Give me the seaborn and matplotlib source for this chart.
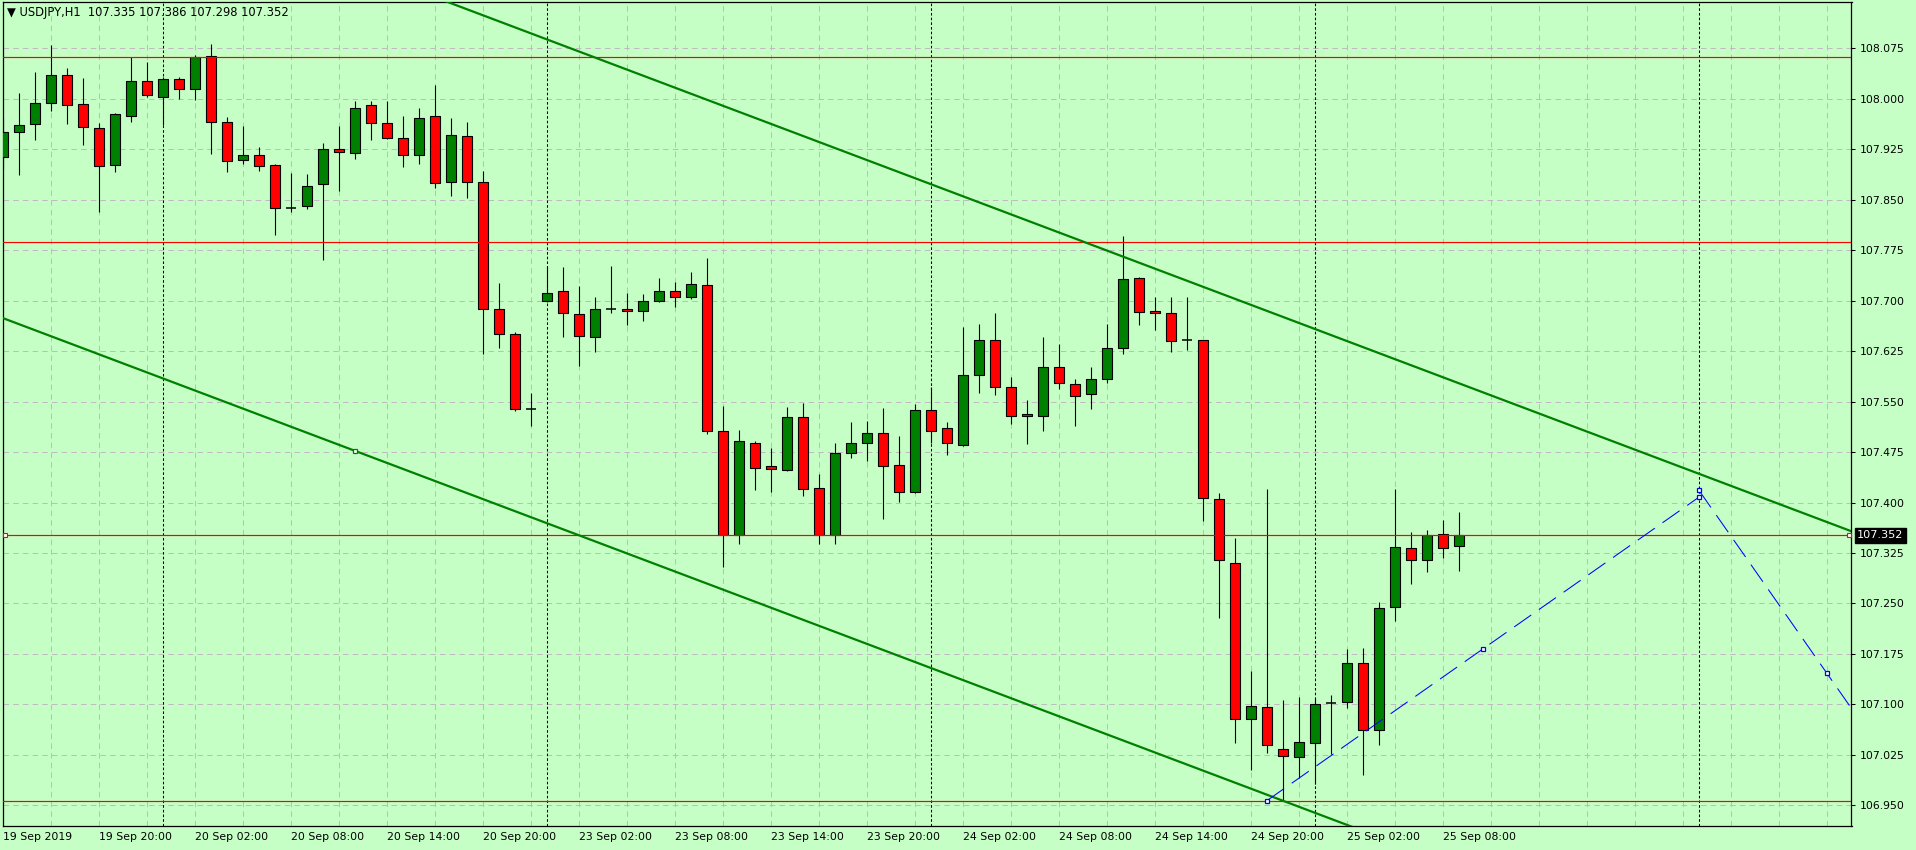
import matplotlib
matplotlib.use("Agg")
import matplotlib.pyplot as plt
import matplotlib.transforms as mtrans
import numpy as np
import seaborn as sns

# ---------------- data ----------------
symbol_title = "USDJPY,H1"
last_ohlc = [107.335, 107.386, 107.298, 107.352]

opens = [107.914, 107.950, 107.963, 107.993, 108.036, 107.992, 107.957, 107.901, 107.975, 108.027,
         108.002, 108.030, 108.015, 108.063, 107.966, 107.909, 107.917, 107.901, 107.838, 107.840,
         107.874, 107.925, 107.919, 107.990, 107.964, 107.941, 107.917, 107.975, 107.877, 107.944,
         107.877, 107.687, 107.650, 107.539, 107.700, 107.714, 107.680, 107.646, 107.687, 107.688,
         107.684, 107.700, 107.714, 107.705, 107.723, 107.506, 107.352, 107.489, 107.454, 107.448,
         107.527, 107.421, 107.352, 107.474, 107.488, 107.503, 107.455, 107.416, 107.537, 107.510,
         107.486, 107.589, 107.641, 107.571, 107.531, 107.528, 107.601, 107.576, 107.561, 107.584,
         107.629, 107.733, 107.684, 107.681, 107.641, 107.641, 107.405, 107.310, 107.078, 107.096,
         107.034, 107.022, 107.043, 107.102, 107.103, 107.162, 107.062, 107.244, 107.333, 107.314,
         107.353, 107.335]
highs = [107.971, 108.009, 108.040, 108.080, 108.045, 108.031, 107.964, 107.979, 108.062, 108.055,
         108.032, 108.033, 108.065, 108.081, 107.973, 107.960, 107.928, 107.903, 107.890, 107.888,
         107.935, 107.960, 107.997, 107.997, 107.997, 107.975, 107.987, 108.021, 107.972, 107.965,
         107.893, 107.726, 107.654, 107.563, 107.751, 107.750, 107.722, 107.705, 107.751, 107.711,
         107.710, 107.734, 107.727, 107.742, 107.763, 107.544, 107.508, 107.491, 107.481, 107.542,
         107.548, 107.442, 107.488, 107.519, 107.521, 107.540, 107.499, 107.546, 107.572, 107.520,
         107.661, 107.665, 107.682, 107.586, 107.552, 107.646, 107.636, 107.584, 107.601, 107.665,
         107.796, 107.735, 107.705, 107.705, 107.705, 107.642, 107.414, 107.347, 107.150, 107.420,
         107.107, 107.111, 107.109, 107.114, 107.182, 107.184, 107.252, 107.420, 107.356, 107.359,
         107.374, 107.386]
lows = [107.895, 107.887, 107.939, 107.982, 107.962, 107.931, 107.831, 107.891, 107.966, 108.003,
        107.961, 107.999, 107.998, 107.918, 107.891, 107.903, 107.892, 107.798, 107.831, 107.836,
        107.760, 107.863, 107.911, 107.938, 107.940, 107.899, 107.903, 107.868, 107.856, 107.853,
        107.620, 107.630, 107.536, 107.514, 107.698, 107.646, 107.603, 107.624, 107.681, 107.664,
        107.670, 107.698, 107.690, 107.703, 107.502, 107.304, 107.339, 107.419, 107.415, 107.447,
        107.410, 107.339, 107.339, 107.466, 107.462, 107.376, 107.401, 107.414, 107.489, 107.470,
        107.484, 107.563, 107.560, 107.517, 107.487, 107.507, 107.568, 107.514, 107.539, 107.577,
        107.621, 107.664, 107.657, 107.624, 107.627, 107.373, 107.229, 107.042, 107.003, 107.028,
        106.957, 106.991, 106.982, 107.026, 107.094, 106.995, 107.039, 107.224, 107.279, 107.297,
        107.318, 107.298]
closes = [107.950, 107.961, 107.993, 108.036, 107.990, 107.958, 107.900, 107.977, 108.027, 108.006,
          108.030, 108.014, 108.062, 107.966, 107.908, 107.917, 107.900, 107.837, 107.838, 107.871,
          107.925, 107.921, 107.986, 107.964, 107.941, 107.917, 107.972, 107.875, 107.946, 107.877,
          107.688, 107.650, 107.539, 107.539, 107.712, 107.681, 107.648, 107.687, 107.687, 107.684,
          107.699, 107.714, 107.705, 107.724, 107.507, 107.352, 107.491, 107.451, 107.450, 107.527,
          107.420, 107.352, 107.473, 107.488, 107.504, 107.454, 107.416, 107.537, 107.506, 107.488,
          107.589, 107.641, 107.571, 107.528, 107.528, 107.601, 107.577, 107.559, 107.583, 107.629,
          107.732, 107.683, 107.681, 107.640, 107.641, 107.406, 107.315, 107.078, 107.097, 107.039,
          107.023, 107.044, 107.100, 107.102, 107.161, 107.062, 107.243, 107.334, 107.314, 107.351,
          107.333, 107.352]

time_labels = ["19 Sep 2019", "19 Sep 20:00", "20 Sep 02:00", "20 Sep 08:00", "20 Sep 14:00",
               "20 Sep 20:00", "23 Sep 02:00", "23 Sep 08:00", "23 Sep 14:00", "23 Sep 20:00",
               "24 Sep 02:00", "24 Sep 08:00", "24 Sep 14:00", "24 Sep 20:00", "25 Sep 02:00",
               "25 Sep 08:00"]
bars_per_label = 6
bars_per_grid = 3
day_separators = [10, 34, 58, 82, 106]

price_ticks = [106.950, 107.025, 107.100, 107.175, 107.250, 107.325, 107.400, 107.475,
               107.550, 107.625, 107.700, 107.775, 107.850, 107.925, 108.000, 108.075]

level_lines = [108.062, 107.787, 107.352, 106.957]
bid_price = 107.352

channel_x = [0, 116]
channel_upper = [108.393, 107.353]
channel_lower = [107.674, 106.634]
channel_anchor = (22, 107.477)

wave_up_x = [79, 106]
wave_up_y = [106.957, 107.408]
wave_down_x = [106, 122]
wave_down_y = [107.418, 106.874]

# ---------------- style ----------------
W, H, DPI = 1916, 850, 100
BG = "#c6ffc6"
GRID = "#c2bac2"
BULL = "#008000"
BEAR = "#ff0000"
FS = 7.8

sns.set_theme(style="white", rc={"axes.facecolor": BG, "figure.facecolor": BG})
plt.rcParams["font.family"] = ["DejaVu Sans"]

fig = plt.figure(figsize=(W / DPI, H / DPI), dpi=DPI, facecolor=BG)
L, R, T, B = 2.5, 1851.5, 1.5, 826.0
ax = fig.add_axes([L / W, 1 - B / H, (R - L) / W, (B - T) / H])
ax.set_facecolor(BG)

def px_to_idx(px):
    return (px - 3.0) / 16.0

def py_to_price(py):
    return 108.075 - (py - 48.3) / 672.9

ax.set_xlim(px_to_idx(L), px_to_idx(R))
ax.set_ylim(py_to_price(B), py_to_price(T))

n = len(opens)
x = np.arange(n)
o = np.array(opens); h = np.array(highs); lo = np.array(lows); c = np.array(closes)

# grid
ax.set_axisbelow(True)
major_x = np.arange(0, n, bars_per_label)
ax.set_xticks(major_x)
ax.set_xticklabels(time_labels, ha="left", fontsize=FS, color="black")
ax.set_xticks(np.arange(0, 116, bars_per_grid), minor=True)
ax.set_yticks(price_ticks)
ax.set_yticklabels([f"{v:.3f}" for v in price_ticks], fontsize=FS, color="black")
ax.yaxis.tick_right()
ax.grid(True, which="both", axis="both", color=GRID, linestyle=(0, (5.5, 4.2)), linewidth=0.72, zorder=0)
ax.tick_params(axis="x", which="major", direction="out", length=3, width=0.75, pad=1.0, colors="black")
ax.tick_params(axis="x", which="minor", length=0)
ax.tick_params(axis="y", which="major", direction="out", length=3, width=0.75, pad=3.0, colors="black")
for lab in ax.get_xticklabels():
    lab.set_horizontalalignment("left")
for s in ax.spines.values():
    s.set_color("black")
    s.set_linewidth(0.9)
    s.set_visible(True)

# day separators
for d in day_separators:
    ax.axvline(d, color="black", linestyle=(0, (2.5, 2.0)), linewidth=0.75, zorder=1)

# candles
ax.vlines(x, lo, h, color="black", linewidth=0.8, zorder=2)
body_mask = o != c
colors = np.where(c > o, BULL, BEAR)
ax.bar(x[body_mask], np.abs(c - o)[body_mask], bottom=np.minimum(o, c)[body_mask], width=0.6,
       color=colors[body_mask], edgecolor="black", linewidth=0.8, zorder=3)
doji = ~body_mask
ax.hlines(o[doji], x[doji] - 0.34, x[doji] + 0.34, color="black", linewidth=1.1, zorder=3)

# horizontal levels
for lv in level_lines:
    ax.axhline(lv, color="#ff0000", linewidth=0.85, zorder=4)
blend = mtrans.blended_transform_factory(ax.transAxes, ax.transData)
ax.plot([0.0016, 0.9984], [bid_price, bid_price], linestyle="none", marker="s", markersize=3.2,
        markerfacecolor="white", markeredgecolor="#ff0000", markeredgewidth=0.8, transform=blend,
        zorder=6, clip_on=False)

# channel
sns.lineplot(x=channel_x, y=channel_upper, ax=ax, color="#008000", linewidth=1.6, zorder=5)
sns.lineplot(x=channel_x, y=channel_lower, ax=ax, color="#008000", linewidth=1.6, zorder=5)
ax.plot([channel_anchor[0]], [channel_anchor[1]], marker="s", markersize=3.2, markerfacecolor="white",
        markeredgecolor="#008000", markeredgewidth=0.9, linestyle="none", zorder=6)

# wave lines
blue = "#0000ff"
dash = (0, (20, 9))
ax.plot(wave_up_x, wave_up_y, color=blue, linewidth=0.75, linestyle=dash, zorder=5)
ax.plot(wave_down_x, wave_down_y, color=blue, linewidth=0.75, linestyle=dash, zorder=5)
wave_pts_x = [wave_up_x[0], np.mean(wave_up_x), wave_up_x[1], wave_down_x[0], np.mean(wave_down_x)]
wave_pts_y = [wave_up_y[0], np.mean(wave_up_y), wave_up_y[1], wave_down_y[0], np.mean(wave_down_y)]
ax.plot(wave_pts_x, wave_pts_y, linestyle="none", marker="s", markersize=3.2, markerfacecolor="white",
        markeredgecolor=blue, markeredgewidth=0.9, zorder=6)

ax.set_xlabel("")
ax.set_ylabel("")
if ax.get_legend() is not None:
    ax.get_legend().remove()

# price tag
fig.text(1857 / W, 1 - 535.3 / H, f"{bid_price:.3f}", color="white", fontsize=FS + 0.3, va="center", ha="left",
         bbox=dict(boxstyle="square,pad=0.22", facecolor="black", edgecolor="black"))

# title
title = "\u25bc " + symbol_title + "  " + " ".join(f"{v:.3f}" for v in last_ohlc)
fig.text(7 / W, 1 - 12.7 / H, title, color="black", fontsize=8.3, va="center", ha="left")

fig.savefig("out.png", dpi=DPI, facecolor=BG)
